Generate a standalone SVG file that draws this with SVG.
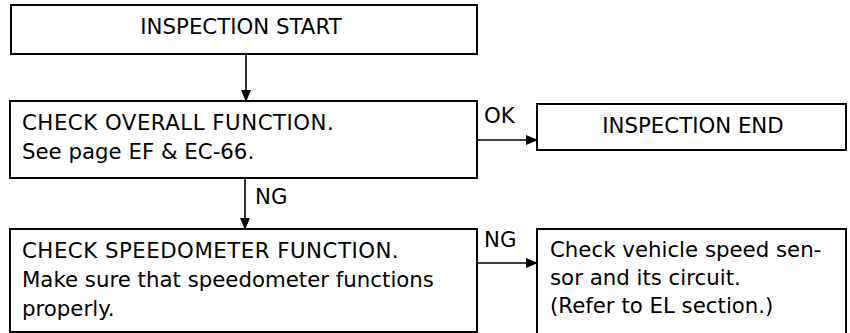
<svg xmlns="http://www.w3.org/2000/svg" width="850" height="333" viewBox="0 0 850 333">
<style>
.box{fill:#fff;stroke:#000;stroke-width:2}
.t{font-family:"DejaVu Sans","Liberation Sans",Arial,sans-serif;font-size:21.3px;fill:#000}
.u{letter-spacing:0.5px}
.c{text-anchor:middle}
.ln{stroke:#000;stroke-width:1.6;fill:none}
</style>
<defs>
<marker id="ah" markerWidth="12" markerHeight="10" refX="11" refY="5" orient="auto" markerUnits="userSpaceOnUse">
<path d="M0,0 L12,5 L0,10 Z" fill="#000"/>
</marker>
</defs>
<rect width="850" height="333" fill="#fff"/>
<g id="connectors">
<line class="ln" x1="246" y1="54" x2="246" y2="101" marker-end="url(#ah)"/>
<line class="ln" x1="477" y1="140" x2="537" y2="140" marker-end="url(#ah)"/>
<line class="ln" x1="245" y1="178" x2="245" y2="229" marker-end="url(#ah)"/>
<line class="ln" x1="477" y1="263" x2="537" y2="263" marker-end="url(#ah)"/>
<text class="t" x="484" y="123">OK</text>
<text class="t" x="255" y="204">NG</text>
<text class="t" x="484" y="247">NG</text>
</g>
<g id="start">
<rect class="box" x="11" y="5" width="466" height="49"/>
<text class="t c" x="241" y="34">INSPECTION START</text>
</g>
<g id="overall">
<rect class="box" x="10" y="101" width="467" height="77"/>
<text class="t u" x="22" y="130">CHECK OVERALL FUNCTION.</text>
<text class="t" x="22" y="159">See page EF &amp; EC-66.</text>
</g>
<g id="end">
<rect class="box" x="537" y="104" width="309" height="46"/>
<text class="t c" x="693" y="133">INSPECTION END</text>
</g>
<g id="speedometer">
<rect class="box" x="10" y="229" width="467" height="103"/>
<text class="t u" x="22" y="258">CHECK SPEEDOMETER FUNCTION.</text>
<text class="t" x="22" y="287">Make sure that speedometer functions</text>
<text class="t" x="22" y="316">properly.</text>
</g>
<g id="sensor">
<rect class="box" x="537" y="229" width="309" height="110"/>
<text class="t" x="550" y="257">Check vehicle speed sen-</text>
<text class="t" x="550" y="285">sor and its circuit.</text>
<text class="t" x="550" y="313">(Refer to EL section.)</text>
</g>
</svg>
